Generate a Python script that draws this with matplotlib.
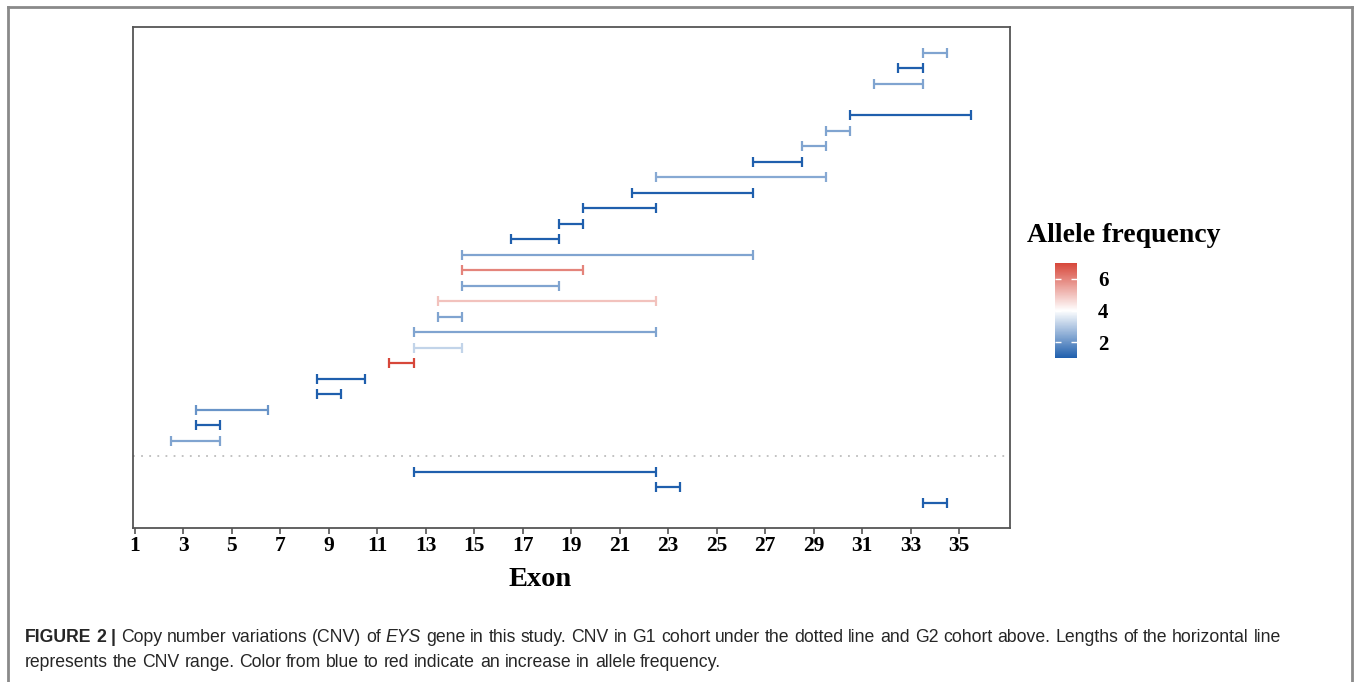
import matplotlib
matplotlib.use("Agg")
import matplotlib.pyplot as plt
import matplotlib.colors as mcolors
import matplotlib.colorbar as mcolorbar
from matplotlib.transforms import IdentityTransform
from matplotlib.lines import Line2D

# ---------------- data ----------------
rows   = [30, 29, 28, 26, 25, 24, 23, 22, 21, 20, 19, 18, 17, 16, 15, 14, 13, 12, 11, 10, 9, 8, 7, 6, 5, 3, 2, 1]
starts = [33.5, 32.5, 31.5, 30.5, 29.5, 28.5, 26.5, 22.5, 21.5, 19.5, 18.5, 16.5, 14.5, 14.5, 14.5, 13.5, 13.5, 12.5, 12.5, 11.5, 8.5, 8.5, 3.5, 3.5, 2.5, 12.5, 22.5, 33.5]
ends   = [34.5, 33.5, 33.5, 35.5, 30.5, 29.5, 28.5, 29.5, 26.5, 22.5, 19.5, 18.5, 26.5, 19.5, 18.5, 22.5, 14.5, 22.5, 14.5, 12.5, 10.5, 9.5, 6.5, 4.5, 4.5, 22.5, 23.5, 34.5]
freqs  = [2.3, 1.0, 2.3, 1.0, 2.3, 2.3, 1.0, 2.4, 1.0, 1.0, 1.0, 1.0, 2.3, 6.0, 2.3, 5.0, 2.3, 2.3, 3.2, 7.0, 1.0, 1.0, 2.0, 1.0, 2.3, 1.0, 1.0, 1.0]
divider_row = 4
x_ticks = list(range(1, 37, 2))
cbar_ticks = [2, 4, 6]

W, H = 1357, 682
fig = plt.figure(figsize=(W / 100, H / 100), dpi=100)

def fr(x0, y0, x1, y1):
    return [x0 / W, (H - y1) / H, (x1 - x0) / W, (y1 - y0) / H]

# outer frame (open at bottom)
frame_c = "#8a8a8a"
fig.add_artist(Line2D([8 / W, 8 / W], [0, 1 - 7 / H], color=frame_c, lw=2))
fig.add_artist(Line2D([1352 / W, 1352 / W], [0, 1 - 7 / H], color=frame_c, lw=2))
fig.add_artist(Line2D([8 / W, 1352 / W], [1 - 7 / H, 1 - 7 / H], color=frame_c, lw=2))

cmap = mcolors.LinearSegmentedColormap.from_list("af", ["#1f5fad", "#ffffff", "#d7473a"])
norm = mcolors.Normalize(vmin=1, vmax=7)

ax = fig.add_axes(fr(133, 27, 1010, 528))
for r, s, e, f in zip(rows, starts, ends, freqs):
    c = cmap(norm(f))
    ax.errorbar((s + e) / 2, r, xerr=(e - s) / 2, fmt="none", ecolor=c,
                elinewidth=1.6, capsize=3.3, capthick=1.6)
ax.axhline(divider_row, color="#bdbdbd", lw=1.3, ls=(0, (1, 3.5)))

ax.set_xlim(0.92, 37.1)
ax.set_ylim(-0.61, 31.67)
ax.set_yticks([])
ax.set_xticks(x_ticks)
ax.set_xticklabels([str(t) for t in x_ticks], fontfamily="Liberation Serif",
                   fontweight="bold", fontsize=15.5)
ax.tick_params(axis="x", length=4, width=1.2, color="#555555", pad=2)
for sp in ax.spines.values():
    sp.set_color("#555555")
    sp.set_linewidth(1.3)
fig.text(540 / W, 1 - 579 / H, "Exon", fontfamily="Liberation Serif", fontweight="bold",
         fontsize=20.5, ha="center", va="center")

# colour bar
cax = fig.add_axes(fr(1055, 263, 1077, 358))
cb = mcolorbar.ColorbarBase(cax, cmap=cmap, norm=norm, orientation="vertical")
cb.outline.set_visible(False)
cb.set_ticks(cbar_ticks)
cax.tick_params(axis="y", direction="in", left=True, right=True, length=4, width=1,
                color="white", labelcolor="black", pad=15)
for lab in cax.get_yticklabels():
    lab.set_fontfamily("Liberation Serif")
    lab.set_fontweight("bold")
    lab.set_fontsize(15)
fig.text(1027 / W, 1 - 235 / H, "Allele frequency", fontfamily="Liberation Serif",
         fontweight="bold", fontsize=20, ha="left", va="center")

# caption with mixed styles
fig.canvas.draw()
renderer = fig.canvas.get_renderer()
cap_size = 12.7
base = dict(fontfamily="Liberation Sans", color="#262626", fontsize=cap_size,
            transform=IdentityTransform(), va="baseline", ha="left")

def width_of(s, **kw):
    t = fig.text(0, 0, s, **{**base, **kw})
    w = t.get_window_extent(renderer).width
    t.remove()
    return w

space_w = width_of("x x") - width_of("xx")

def draw_runs(x, y, runs):
    for i, (txt, kw) in enumerate(runs):
        words = txt.split(" ")
        for j, wd in enumerate(words):
            if wd:
                t = fig.text(x, y, wd, **{**base, **kw})
                x = t.get_window_extent(renderer).x1
            if j < len(words) - 1:
                x += space_w
    return x

line1 = [("FIGURE 2 |", dict(fontweight="bold")),
         (" Copy number variations (CNV) of ", {}),
         ("EYS", dict(fontstyle="italic")),
         (" gene in this study. CNV in G1 cohort under the dotted line and G2 cohort above. Lengths of the horizontal line", {})]
line2 = [("represents the CNV range. Color from blue to red indicate an increase in allele frequency.", {})]
draw_runs(25, H - 642, line1)
draw_runs(25, H - 667, line2)

fig.savefig("out.png", dpi=100)
